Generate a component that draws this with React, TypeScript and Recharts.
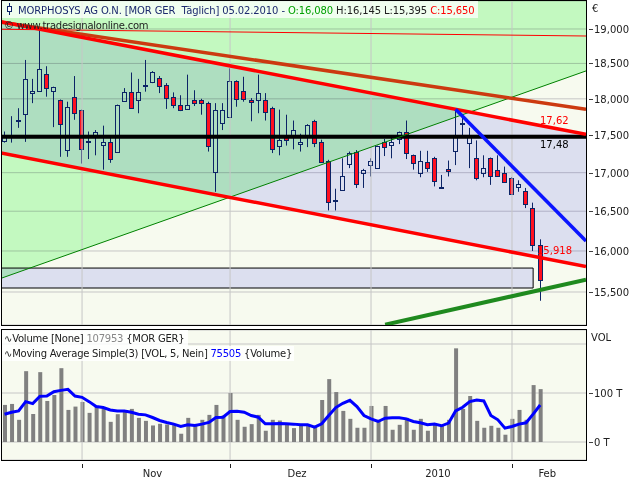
import { ComposedChart, Bar, Line, Area, XAxis, YAxis, CartesianGrid, ReferenceLine, ReferenceArea } from "recharts"

// daily candles, 16.10.2009 .. 05.02.2010 (index = trading day)
const opens = [
  17.42, 17.49, 17.70, 17.79, 18.08, 18.11, 18.35, 18.11, 17.98, 17.30, 18.03, 17.84, 17.42, 17.50, 17.37, 17.41,
  17.28, 17.97, 18.10, 17.99, 18.18, 18.24, 18.29, 18.19, 18.03, 17.91, 17.86, 17.99, 17.99, 17.94, 17.01, 17.66,
  17.75, 18.25, 18.11, 17.99, 17.98, 17.99, 17.87, 17.35, 17.47, 17.50, 17.38, 17.48, 17.69, 17.41, 17.16, 16.64,
  16.77, 17.12, 17.28, 16.99, 17.10, 17.06, 17.41, 17.37, 17.45, 17.54, 17.23, 17.00, 17.14, 17.20, 16.81, 17.05,
  17.29, 17.66, 17.39, 17.19, 17.00, 17.19, 17.03, 17.00, 16.93, 16.81, 16.76, 16.54, 16.08,
]
const highs = [
  17.55, 17.76, 17.87, 18.55, 18.28, 19.00, 18.46, 18.17, 17.99, 17.96, 18.32, 17.85, 17.55, 17.57, 17.63, 17.50,
  17.92, 18.15, 18.37, 18.28, 18.55, 18.39, 18.32, 18.22, 18.09, 18.05, 18.34, 18.12, 18.00, 17.96, 17.94, 17.94,
  18.43, 18.26, 18.31, 18.01, 18.34, 18.08, 17.89, 17.85, 17.78, 17.70, 17.52, 17.65, 17.71, 17.44, 17.17, 16.79,
  17.19, 17.28, 17.30, 17.05, 17.19, 17.36, 17.45, 17.50, 17.55, 17.70, 17.24, 17.29, 17.29, 17.21, 16.97, 17.16,
  17.85, 17.75, 17.60, 17.43, 17.23, 17.20, 17.23, 17.08, 16.94, 16.90, 16.80, 16.61, 16.145,
]
const lows = [
  17.40, 17.40, 17.60, 17.41, 17.94, 18.10, 18.03, 17.61, 17.21, 17.21, 17.71, 17.12, 17.18, 17.23, 17.04, 17.13,
  17.27, 17.96, 17.86, 17.80, 18.10, 18.22, 18.08, 17.86, 17.87, 17.83, 17.86, 17.90, 17.78, 17.28, 16.75, 17.57,
  17.74, 17.89, 17.96, 17.69, 17.80, 17.70, 17.26, 17.23, 17.36, 17.31, 17.28, 17.34, 17.34, 17.13, 16.51, 16.51,
  16.77, 17.06, 16.80, 16.80, 16.95, 17.05, 17.22, 17.19, 17.38, 17.18, 17.04, 16.94, 17.01, 16.82, 16.80, 16.95,
  17.10, 17.50, 17.06, 16.90, 16.94, 16.84, 16.95, 16.87, 16.71, 16.75, 16.54, 16.00, 15.395,
]
const closes = [
  17.50, 17.48, 17.71, 18.28, 18.11, 18.42, 18.15, 18.17, 17.65, 17.89, 17.80, 17.31, 17.41, 17.55, 17.41, 17.18,
  17.91, 18.09, 17.87, 18.09, 18.19, 18.38, 18.18, 18.01, 17.91, 17.84, 17.91, 17.94, 17.94, 17.36, 17.85, 17.85,
  18.25, 18.00, 18.00, 17.95, 18.08, 17.82, 17.31, 17.44, 17.43, 17.57, 17.41, 17.64, 17.40, 17.14, 16.62, 16.63,
  16.95, 17.26, 16.85, 17.04, 17.16, 17.35, 17.34, 17.41, 17.54, 17.26, 17.13, 17.15, 17.06, 16.89, 16.81, 17.02,
  17.50, 17.65, 17.49, 16.93, 17.06, 16.95, 16.96, 16.88, 16.72, 16.85, 16.59, 16.07, 15.65,
]

// volume in thousands of shares, and its 5 day moving average
const volumes = [
  75.7, 77.7, 45.3, 144.6, 57.4, 142.6, 83.8, 95.9, 150.7, 65.5, 72.3, 81.8, 59.5, 73.6, 68.9, 41.2,
  56.8, 62.2, 67.6, 49.3, 43.2, 33.8, 37.2, 35.8, 34.5, 16.9, 49.3, 34.5, 45.3, 55.4, 75.7, 54.1,
  100.0, 45.3, 31.1, 36.5, 55.4, 23.0, 45.3, 43.9, 38.5, 28.4, 33.8, 35.5, 31.0, 85.8, 128.4, 102.0,
  63.5, 47.3, 29.1, 29.1, 73.6, 45.3, 73.6, 25.0, 35.1, 49.3, 25.0, 47.3, 23.0, 35.1, 33.1, 45.3,
  191.2, 67.6, 93.9, 43.2, 29.1, 33.1, 29.1, 14.9, 47.3, 65.5, 45.3, 116.2, 107.953,
]
const volumeAvg = [
  56.8, 60.8, 63.5, 82.4, 78.4, 93.2, 93.9, 102.7, 105.4, 107.4, 93.9, 91.2, 82.4, 72.3, 70.3, 65.5,
  63.5, 63.5, 60.8, 56.8, 55.4, 50.0, 43.9, 39.9, 36.5, 31.8, 35.1, 33.8, 36.5, 39.9, 50.0, 50.7,
  62.2, 62.8, 60.8, 54.1, 50.7, 37.2, 37.2, 37.8, 37.2, 36.5, 35.1, 35.1, 30.4, 37.2, 54.1, 70.3,
  79.1, 85.1, 72.3, 54.1, 47.3, 41.9, 48.6, 49.3, 49.3, 47.3, 41.9, 39.2, 35.1, 36.5, 33.1, 38.5,
  63.5, 70.9, 82.4, 85.8, 83.8, 54.1, 45.3, 28.4, 31.8, 36.5, 39.2, 56.8, 75.505,
]

const priceTicks = [15.5, 16, 16.5, 17, 17.5, 18, 18.5, 19]
const volumeTicks = [0, 100, 200]
const monthStarts = [11, 32, 52, 72] // first trading day of Nov, Dez, Jan, Feb
const monthLabels = ["Nov", "Dez", "2010", "Feb"]
const monthLabelAt = [21, 41.5, 61.5, 77]

// drawing tools: [index, price] end points
const channelTop = [[-0.5, 19.106], [82.5, 17.511]]
const channelBottom = [[-0.5, 17.261], [82.5, 15.809]]
const brownLine = [[-0.5, 19.1], [82.5, 17.855]]
const thinRed = [[-0.5, 18.996], [82.5, 18.897]]
const thinGreen = [[-0.5, 15.665], [82.5, 18.393]]
const blueLine = [[64, 17.855], [82.5, 16.124]]
const greenSupport = [[54, 15.113], [82.5, 15.649]]
const supportLevel = 17.48
const zoneX = [-0.5, 75]
const zoneY = [15.548, 15.79]

const X_DOMAIN = [-0.5, 82.5]
const PRICE_DOMAIN = [15.109, 19.416]
const VOL_DOMAIN = [-36.7, 228.6]

const NAVY = "#0c2466"
const BODY_RED = "#ff1020"
const GRID = "#c6c6c6"
const TEXT = "#202020"
const FONT = '"DejaVu Sans", Verdana, sans-serif'

const candles = opens.map((o, i) => ({ i, o, h: highs[i], l: lows[i], c: closes[i], range: [lows[i], highs[i]] }))
const volRows = volumes.map((v, i) => ({ i, vol: v, avg: volumeAvg[i] }))
const channelBand = channelTop.map(([i, hi], k) => ({ i, band: [channelBottom[k][1], hi] }))
const greenBand = thinGreen.map(([i, lo]) => ({ i, band: [lo, PRICE_DOMAIN[1]] }))
const seg = (p: number[][]) => p.map(([x, y]) => ({ x, y }))

function Candle(props: any) {
  const { x, y, width, height, payload } = props
  if (height == null || !payload) return null
  const { o, h, l, c } = payload
  const cx = Math.floor(x + width / 2) + 0.5
  const span = Math.log(h / l) || 1
  const at = (v: number) => y + (height * Math.log(h / v)) / span
  const top = Math.round(at(Math.max(o, c))) + 0.5
  let bot = Math.round(at(Math.min(o, c))) + 0.5
  if (bot - top < 1) bot = top + 1
  return (
    <g>
      <line x1={cx} x2={cx} y1={y} y2={top} stroke={NAVY} />
      <line x1={cx} x2={cx} y1={bot} y2={y + height} stroke={NAVY} />
      <rect x={cx - 2} y={top} width={4} height={bot - top} fill={c > o ? "none" : BODY_RED} stroke={NAVY} />
    </g>
  )
}

function PriceTick(props: any) {
  const { x, y, payload } = props
  const yy = Math.round(y) + 0.5
  return (
    <g>
      <line x1={x + 3} x2={x + 7} y1={yy} y2={yy} stroke="#404040" />
      <text x={x + 8} y={y + 4} fontSize={10} fill={TEXT} fontFamily={FONT}>
        {Number(payload.value).toFixed(3).replace(".", ",")}
      </text>
    </g>
  )
}

function VolTick(props: any) {
  const { x, y, payload } = props
  if (payload.value > 150) return null
  const yy = Math.round(y) + 0.5
  return (
    <g>
      <line x1={x + 3} x2={x + 7} y1={yy} y2={yy} stroke="#404040" />
      <text x={x + 8} y={y + 4} fontSize={10} fill={TEXT} fontFamily={FONT}>
        {payload.value} T
      </text>
    </g>
  )
}

function MonthTick(props: any) {
  const { x, y, payload } = props
  const v = payload.value
  if (monthStarts.includes(v)) {
    const xx = Math.round(x) + 0.5
    return <line x1={xx} x2={xx} y1={y + 4} y2={y + 8} stroke={TEXT} />
  }
  return (
    <text x={x} y={y + 17} textAnchor="middle" fontSize={10} fill={TEXT} fontFamily={FONT}>
      {monthLabels[monthLabelAt.indexOf(v)]}
    </text>
  )
}

export default function App() {
  return (
    <div style={{ position: "fixed", left: 0, top: 0, width: 640, height: 480, background: "#fff", overflow: "hidden" }}>
      <style>{`.mult { mix-blend-mode: multiply; }`}</style>

      <div style={{ position: "absolute", left: 0, top: 0 }}>
        <ComposedChart width={640} height={330} data={candles} margin={{ top: 1, right: 0, bottom: 5, left: 1 }}>
          <CartesianGrid vertical={false} stroke={GRID} fill="#f7faef" fillOpacity={1} />
          <XAxis dataKey="i" type="number" domain={X_DOMAIN} allowDataOverflow hide />
          <YAxis
            orientation="right"
            scale="log"
            domain={PRICE_DOMAIN}
            allowDataOverflow
            ticks={priceTicks}
            interval={0}
            width={54}
            axisLine={false}
            tickLine={false}
            tickSize={0}
            tickMargin={0}
            tick={PriceTick}
          />
          {monthStarts.map((m) => (
            <ReferenceLine key={m} x={m} stroke={GRID} />
          ))}
          <Bar dataKey="range" barSize={5} shape={Candle} isAnimationActive={false} />
          <Area
            data={channelBand}
            dataKey="band"
            type="linear"
            className="mult"
            fill="#e4e4ff"
            fillOpacity={1}
            stroke="none"
            isAnimationActive={false}
          />
          <Area
            data={greenBand}
            dataKey="band"
            type="linear"
            className="mult"
            fill="#cafecd"
            fillOpacity={1}
            stroke="none"
            isAnimationActive={false}
          />
          <ReferenceArea
            x1={zoneX[0]}
            x2={zoneX[1]}
            y1={zoneY[0]}
            y2={zoneY[1]}
            className="mult"
            fill="#e4e4ff"
            fillOpacity={1}
            stroke="#000"
            ifOverflow="hidden"
          />
          <ReferenceLine y={supportLevel} stroke="#000" strokeWidth={4} />
          <ReferenceLine segment={seg(thinRed)} stroke="#ff0000" strokeWidth={1} ifOverflow="hidden" />
          <ReferenceLine segment={seg(thinGreen)} stroke="#008000" strokeWidth={1} ifOverflow="hidden" />
          <ReferenceLine segment={seg(brownLine)} stroke="#cc3a10" strokeWidth={3.5} ifOverflow="hidden" />
          <ReferenceLine segment={seg(channelTop)} stroke="#ff0000" strokeWidth={3.5} ifOverflow="hidden" />
          <ReferenceLine segment={seg(channelBottom)} stroke="#ff0000" strokeWidth={3.5} ifOverflow="hidden" />
          <ReferenceLine segment={seg(blueLine)} stroke="#0a14ff" strokeWidth={3.5} ifOverflow="hidden" />
          <ReferenceLine segment={seg(greenSupport)} stroke="#1f8a1f" strokeWidth={4} ifOverflow="hidden" />
        </ComposedChart>
      </div>

      <div style={{ position: "absolute", left: 0, top: 329 }}>
        <ComposedChart width={640} height={151} data={volRows} margin={{ top: 1, right: 0, bottom: 0, left: 1 }}>
          <CartesianGrid vertical={false} stroke={GRID} fill="#f7faef" fillOpacity={1} />
          <XAxis
            dataKey="i"
            type="number"
            domain={X_DOMAIN}
            allowDataOverflow
            ticks={[...monthStarts, ...monthLabelAt].sort((a, b) => a - b)}
            interval={0}
            height={20}
            axisLine={false}
            tickLine={false}
            tickSize={0}
            tickMargin={0}
            tick={MonthTick}
          />
          <YAxis
            orientation="right"
            domain={VOL_DOMAIN}
            allowDataOverflow
            ticks={volumeTicks}
            interval={0}
            width={54}
            axisLine={false}
            tickLine={false}
            tickSize={0}
            tickMargin={0}
            tick={VolTick}
          />
          {monthStarts.map((m) => (
            <ReferenceLine key={m} x={m} stroke={GRID} />
          ))}
          <Bar dataKey="vol" barSize={4} fill="#808080" isAnimationActive={false} />
          <Line dataKey="avg" type="linear" stroke="#0000ff" strokeWidth={3} dot={false} isAnimationActive={false} />
        </ComposedChart>
      </div>

      <svg width={640} height={480} style={{ position: "absolute", left: 0, top: 0, pointerEvents: "none" }} fontFamily={FONT}>
        <rect x={1.5} y={0.5} width={585} height={325} fill="none" stroke="#000" />
        <rect x={1.5} y={329.5} width={585} height={131} fill="none" stroke="#000" />

        <rect x={2} y={1} width={476} height={17} fill="#fff" fillOpacity={0.75} />
        <line x1={9.5} x2={9.5} y1={3} y2={15} stroke={NAVY} />
        <rect x={7.5} y={6.5} width={4} height={5} fill="#fff" stroke={NAVY} />
        <text x={18} y={14} fontSize={10} letterSpacing={-0.12} style={{ whiteSpace: "pre" }}>
          <tspan fill="#1c2a6e">MORPHOSYS AG O.N. [MOR GER  Täglich] 05.02.2010 - </tspan>
          <tspan fill="#00a000">O:16,080 </tspan>
          <tspan fill={TEXT}>H:16,145 L:15,395 </tspan>
          <tspan fill="#ff0000">C:15,650</tspan>
        </text>
        <text x={4} y={29} fontSize={10} letterSpacing={-0.26} fill="#222">© www.tradesignalonline.com</text>
        <text x={592} y={12} fontSize={10} fill={TEXT}>€</text>

        <text x={540} y={124} fontSize={10} fill="#ff0000">17,62</text>
        <text x={540} y={148} fontSize={10} fill="#000">17,48</text>
        <text x={537} y={254} fontSize={10} fill="#ff0000">15,918</text>

        <rect x={2} y={330} width={186} height={16} fill="#fff" fillOpacity={0.85} />
        <rect x={2} y={346} width={292} height={15} fill="#fff" fillOpacity={0.85} />
        <text x={4} y={342} fontSize={10} letterSpacing={-0.23} fill={TEXT} style={{ whiteSpace: "pre" }}>
          ∿Volume [None] <tspan fill="#888">107953</tspan> {"{MOR GER}"}
        </text>
        <text x={4} y={357} fontSize={10} letterSpacing={-0.24} fill={TEXT} style={{ whiteSpace: "pre" }}>
          ∿Moving Average Simple(3) [VOL, 5, Nein] <tspan fill="#0000ff">75505</tspan> {"{Volume}"}
        </text>
        <text x={591} y={341} fontSize={10} fill={TEXT}>VOL</text>
      </svg>
    </div>
  )
}
